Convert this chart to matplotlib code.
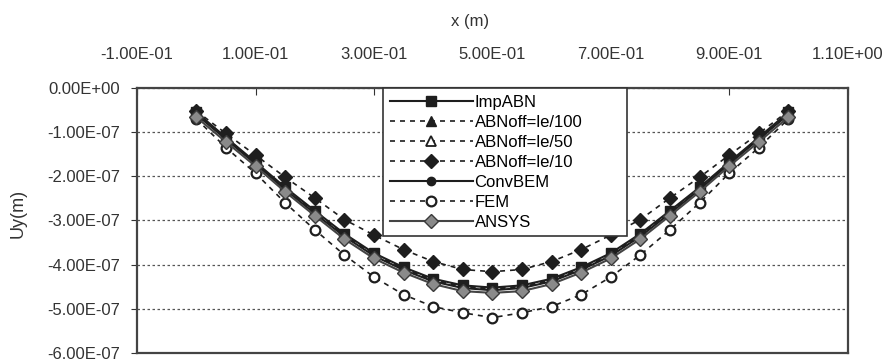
import numpy as np
import matplotlib
matplotlib.use("Agg")
import matplotlib.pyplot as plt
from matplotlib.ticker import FuncFormatter

plt.rcParams['font.family'] = ['Liberation Sans', 'DejaVu Sans']

# x positions (m)
x = [0.00, 0.05, 0.10, 0.15, 0.20, 0.25, 0.30, 0.35, 0.40, 0.45, 0.50,
     0.55, 0.60, 0.65, 0.70, 0.75, 0.80, 0.85, 0.90, 0.95, 1.00]

# Uy values, in units of 1e-7 m
imp_abn = [-0.55, -1.12, -1.68, -2.25, -2.78, -3.30, -3.74, -4.06, -4.32, -4.47, -4.52,
           -4.47, -4.32, -4.06, -3.74, -3.30, -2.78, -2.25, -1.68, -1.12, -0.55]
abn_100 = [-0.56, -1.13, -1.70, -2.27, -2.80, -3.32, -3.76, -4.08, -4.34, -4.49, -4.54,
           -4.49, -4.34, -4.08, -3.76, -3.32, -2.80, -2.27, -1.70, -1.13, -0.56]
abn_50 = [-0.57, -1.14, -1.71, -2.28, -2.82, -3.34, -3.78, -4.10, -4.36, -4.51, -4.56,
          -4.51, -4.36, -4.10, -3.78, -3.34, -2.82, -2.28, -1.71, -1.14, -0.57]
abn_10 = [-0.52, -1.03, -1.52, -2.02, -2.49, -2.98, -3.33, -3.66, -3.93, -4.11, -4.16,
          -4.11, -3.93, -3.66, -3.33, -2.98, -2.49, -2.02, -1.52, -1.03, -0.52]
conv_bem = [-0.60, -1.16, -1.72, -2.30, -2.84, -3.36, -3.80, -4.12, -4.38, -4.53, -4.58,
            -4.53, -4.38, -4.12, -3.80, -3.36, -2.84, -2.30, -1.72, -1.16, -0.60]
fem = [-0.70, -1.35, -1.93, -2.60, -3.21, -3.78, -4.28, -4.68, -4.95, -5.09, -5.20,
       -5.09, -4.95, -4.68, -4.28, -3.78, -3.21, -2.60, -1.93, -1.35, -0.70]
ansys = [-0.66, -1.22, -1.77, -2.35, -2.89, -3.42, -3.86, -4.18, -4.44, -4.60, -4.64,
         -4.60, -4.44, -4.18, -3.86, -3.42, -2.89, -2.35, -1.77, -1.22, -0.66]

x_ticks = [-0.1, 0.1, 0.3, 0.5, 0.7, 0.9, 1.1]
y_ticks = [0, -1e-7, -2e-7, -3e-7, -4e-7, -5e-7, -6e-7]

fig = plt.figure(figsize=(8.96, 3.62), dpi=100)
ax = fig.add_axes([0.153, 0.025, 0.793, 0.732])

k = '#1e1e1e'
dash = (0, (3, 3))
s = 1e-7
ax.plot(x, np.array(imp_abn) * s, color=k, lw=1.5, marker='s', ms=7, label='ImpABN')
ax.plot(x, np.array(abn_100) * s, color=k, lw=1.2, ls=dash, marker='^', ms=7, label='ABNoff=le/100')
ax.plot(x, np.array(abn_50) * s, color=k, lw=1.2, ls=dash, marker='^', ms=7,
        mfc='white', mec=k, mew=1.3, label='ABNoff=le/50')
ax.plot(x, np.array(abn_10) * s, color=k, lw=1.2, ls=dash, marker='D', ms=7, label='ABNoff=le/10')
ax.plot(x, np.array(conv_bem) * s, color=k, lw=1.5, marker='o', ms=6, label='ConvBEM')
ax.plot(x, np.array(fem) * s, color=k, lw=1.2, ls=dash, marker='o', ms=7,
        mfc='white', mec=k, mew=1.6, label='FEM')
ax.plot(x, np.array(ansys) * s, color='#444444', lw=1.5, marker='D', ms=7,
        mfc='#8a8a8a', mec='#3a3a3a', label='ANSYS')

ax.set_xlim(-0.1, 1.1)
ax.set_ylim(-6e-7, 0)
ax.set_xticks(x_ticks)
ax.set_yticks(y_ticks)
ax.xaxis.set_major_formatter(FuncFormatter(lambda v, p: '%.2E' % v))
ax.yaxis.set_major_formatter(FuncFormatter(lambda v, p: '%.2E' % v if v != 0 else '0.00E+00'))

ax.xaxis.tick_top()
ax.tick_params(axis='x', direction='in', length=5, pad=19, labelsize=12, colors='#333333')
ax.tick_params(axis='y', direction='out', length=4, pad=8, labelsize=12, colors='#333333')

ax.set_xlabel('x (m)', fontsize=12, color='#333333')
ax.xaxis.set_label_position('top')
ax.xaxis.set_label_coords(0.468, 1.235)
ax.set_ylabel('Uy(m)', fontsize=13, color='#333333')
ax.yaxis.set_label_coords(-0.155, 0.525)

ax.grid(axis='y', color='#555555', ls=(0, (2, 2)), lw=0.9)
for sp in ax.spines.values():
    sp.set_color('#444444')
    sp.set_linewidth(1.6)

leg = ax.legend(loc='upper left', bbox_to_anchor=(0.346, 0.0, 0.343, 1.0), mode='expand',
                borderaxespad=0, fontsize=12, frameon=True, fancybox=False,
                handlelength=5.0, handletextpad=0.1, labelspacing=0.3, borderpad=0.4)
leg.get_frame().set_edgecolor('#333333')
leg.get_frame().set_linewidth(1.2)
leg.get_frame().set_alpha(1)

fig.savefig('out.png', dpi=100)
plt.close(fig)
